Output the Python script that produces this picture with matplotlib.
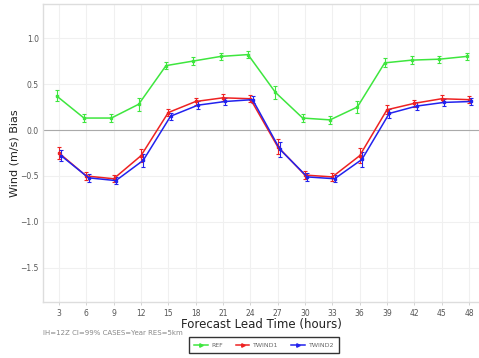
import matplotlib.pyplot as plt
from matplotlib.lines import Line2D
import numpy as np

# forecast lead times (hours)
lead = [3, 6, 9, 12, 15, 18, 21, 24, 27, 30, 33, 36, 39, 42, 45, 48]

ref = [0.37, 0.13, 0.13, 0.28, 0.70, 0.75, 0.80, 0.82,
       0.41, 0.13, 0.11, 0.25, 0.73, 0.76, 0.77, 0.80]
twind1 = [-0.25, -0.50, -0.53, -0.28, 0.19, 0.31, 0.35, 0.34,
          -0.18, -0.49, -0.51, -0.28, 0.22, 0.29, 0.34, 0.33]
twind2 = [-0.28, -0.52, -0.55, -0.33, 0.15, 0.27, 0.31, 0.33,
          -0.21, -0.51, -0.53, -0.32, 0.18, 0.26, 0.30, 0.31]

# 99% confidence half-widths
ref_ci = [0.06, 0.04, 0.04, 0.07, 0.04, 0.04, 0.04, 0.04,
          0.07, 0.04, 0.04, 0.07, 0.05, 0.04, 0.04, 0.04]
twind1_ci = [0.06, 0.04, 0.04, 0.07, 0.04, 0.04, 0.04, 0.04,
             0.08, 0.04, 0.04, 0.08, 0.05, 0.04, 0.04, 0.04]
twind2_ci = [0.06, 0.04, 0.04, 0.07, 0.04, 0.04, 0.04, 0.04,
             0.08, 0.04, 0.04, 0.08, 0.05, 0.04, 0.04, 0.04]

series = [("REF", ref, ref_ci, "#3ee63e", -0.25),
          ("TWIND1", twind1, twind1_ci, "#ee2222", 0.0),
          ("TWIND2", twind2, twind2_ci, "#2222ee", 0.25)]

fig = plt.figure(figsize=(4.79, 3.58), dpi=100)
ax = fig.add_axes([43 / 479, 1 - 302 / 358, 436 / 479, 298 / 358])

x = np.array(lead, dtype=float)
handles = []
for name, vals, ci, col, off in series:
    ax.errorbar(x + off, vals, yerr=ci, color=col, lw=1.1, marker="s", ms=2.0,
                elinewidth=0.8, capsize=1.5, capthick=0.8, zorder=3)
    handles.append(Line2D([], [], color=col, lw=1.1, marker=">", ms=2.5,
                          markevery=[1], label=name))

ax.axhline(0, color="#aaaaaa", lw=0.8, zorder=1)

ax.set_xlim(1.25, 49.1)
ax.set_ylim(-1.87, 1.37)
ax.set_xticks(lead)
ax.set_yticks([-1.5, -1.0, -0.5, 0.0, 0.5, 1.0])
ax.set_yticklabels(["\u22121.5", "\u22121.0", "\u22120.5", "0.0", "0.5", "1.0"])
ax.grid(True, color="#f0f0f0", lw=0.8, zorder=0)
ax.set_axisbelow(True)

for side in ["left", "bottom", "top"]:
    ax.spines[side].set_color("#dddddd")
    ax.spines[side].set_linewidth(1.0)
ax.spines["right"].set_visible(False)
ax.tick_params(axis="both", labelsize=5.5, colors="#cccccc", labelcolor="#555555",
               length=2, width=0.6)
ax.tick_params(axis="x", pad=3)
ax.tick_params(axis="y", length=0, pad=3)

ax.set_ylabel("Wind (m/s) Bias", fontsize=8, color="#222222")
ax.yaxis.set_label_coords(-0.055, 0.5)
ax.set_xlabel("Forecast Lead Time (hours)", fontsize=8.5, color="#222222", labelpad=0)

fig.text(43 / 479, 1 - 333 / 358, "IH=12Z CI=99% CASES=Year RES=5km",
         fontsize=5, color="#888888", va="center", ha="left")

fig.legend(handles=handles, loc="center", bbox_to_anchor=(264 / 479, 1 - 345 / 358),
           ncol=3, fontsize=4.5, frameon=True, fancybox=False, edgecolor="#333333",
           framealpha=1, handlelength=2.2, handletextpad=0.6, columnspacing=2.0,
           borderpad=0.8, labelcolor="#666666")

plt.savefig("out.png", dpi=100)
